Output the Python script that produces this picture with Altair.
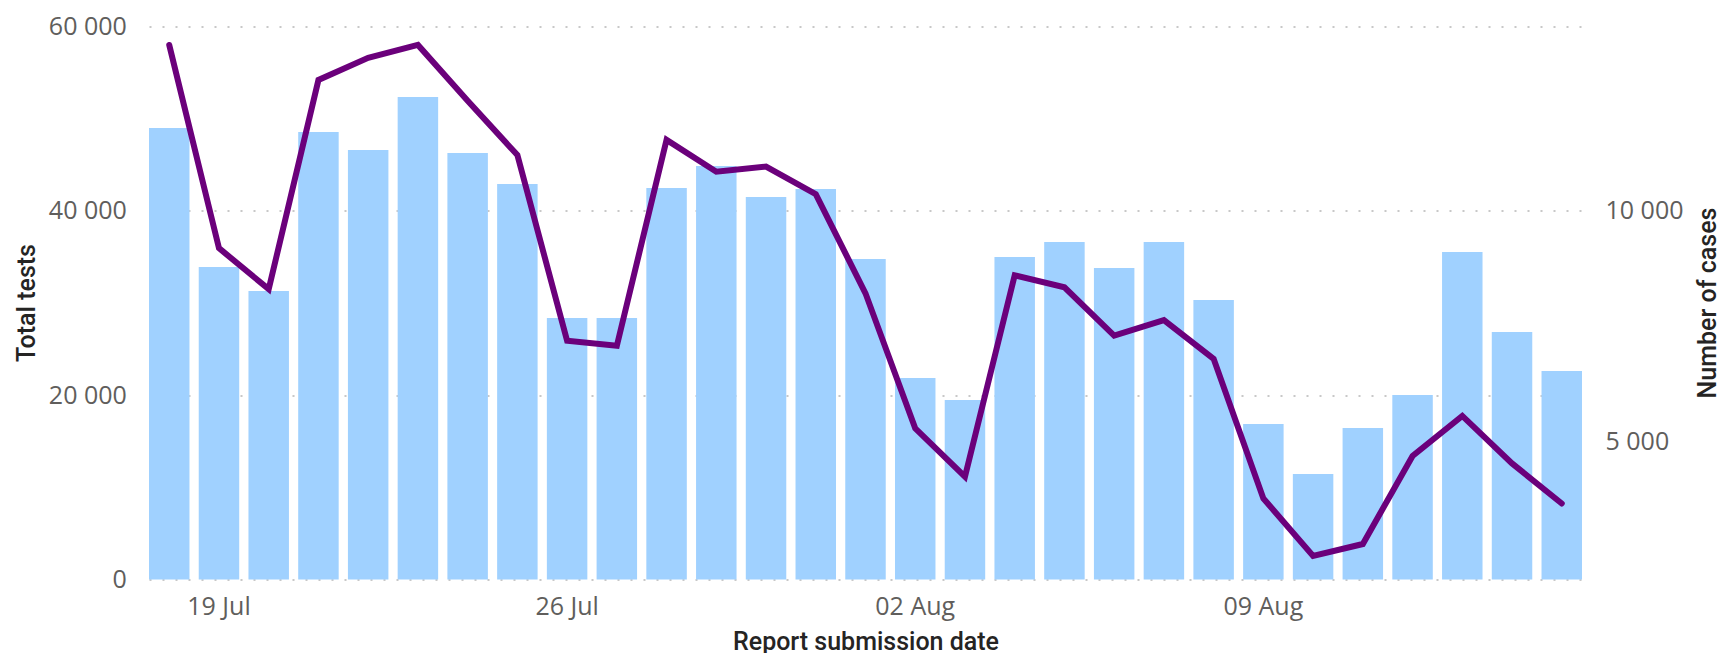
import altair as alt
import pandas as pd

dates = ["18 Jul", "19 Jul", "20 Jul", "21 Jul", "22 Jul", "23 Jul", "24 Jul", "25 Jul",
         "26 Jul", "27 Jul", "28 Jul", "29 Jul", "30 Jul", "31 Jul", "01 Aug", "02 Aug",
         "03 Aug", "04 Aug", "05 Aug", "06 Aug", "07 Aug", "08 Aug", "09 Aug", "10 Aug",
         "11 Aug", "12 Aug", "13 Aug", "14 Aug", "15 Aug"]
tests = [48990, 33900, 31300, 48550, 46600, 52350, 46280, 42910, 28370, 28370,
         42480, 44870, 41500, 42370, 34770, 21860, 19480, 34990, 36620, 33800,
         36620, 30330, 16870, 11450, 16440, 20020, 35530, 26850, 22620]
cases = [13600, 9190, 8300, 12840, 13320, 13600, 12390, 11210, 7180, 7070,
         11540, 10850, 10960, 10360, 8210, 5280, 4230, 8600, 8340, 7290,
         7630, 6790, 3760, 2510, 2770, 4680, 5550, 4520, 3650]
x_ticks = ["19 Jul", "26 Jul", "02 Aug", "09 Aug"]
left_ticks = [0, 20000, 40000, 60000]
right_ticks = [5000, 10000]

df = pd.DataFrame({"date": dates, "tests": tests, "cases": cases})

LABEL_FONT = "Open Sans"
TITLE_FONT = "Roboto"
LABEL_COLOR = "#605E5C"
TITLE_COLOR = "#252423"
fmt = "replace(format(datum.value, ','), ',', ' ')"

x = alt.X(
    "date:N", sort=dates,
    scale=alt.Scale(paddingInner=0.186, paddingOuter=0),
    axis=alt.Axis(values=x_ticks, labelAngle=0, title="Report submission date",
                  ticks=False, domain=False, grid=False,
                  labelFont=LABEL_FONT, labelFontSize=25, labelColor=LABEL_COLOR,
                  labelBaseline="alphabetic", labelPadding=34.8,
                  titleFont=TITLE_FONT, titleFontSize=25, titleColor=TITLE_COLOR,
                  titleFontWeight=500, titleBaseline="alphabetic", titleY=69.8),
)

bars = alt.Chart(df).mark_bar(color="#A0D1FF").encode(
    x=x,
    y=alt.Y("tests:Q", scale=alt.Scale(domain=[0, 60000], nice=False),
            axis=alt.Axis(orient="left", values=left_ticks, title="Total tests",
                          labelExpr=fmt, ticks=False, domain=False,
                          grid=True, gridDash=[2, 11], gridColor="#C8C8C8", gridWidth=2,
                          labelFont=LABEL_FONT, labelFontSize=25, labelColor=LABEL_COLOR,
                          labelPadding=22.7,
                          titleFont=TITLE_FONT, titleFontSize=25, titleColor=TITLE_COLOR,
                          titleFontWeight=500, titleAngle=270,
                          titleBaseline="alphabetic", titleX=-114.6, titleY=276)),
)

line = alt.Chart(df).mark_line(color="#6B007B", strokeWidth=6, strokeCap="round").encode(
    x=x,
    y=alt.Y("cases:Q", scale=alt.Scale(domain=[2000, 14000], nice=False, zero=False),
            axis=alt.Axis(orient="right", values=right_ticks, title="Number of cases",
                          labelExpr=fmt, ticks=False, domain=False, grid=False,
                          labelFont=LABEL_FONT, labelFontSize=25, labelColor=LABEL_COLOR,
                          labelPadding=23,
                          titleFont=TITLE_FONT, titleFontSize=25, titleColor=TITLE_COLOR,
                          titleFontWeight=500, titleAngle=270,
                          titleBaseline="alphabetic", titleX=133, titleY=276)),
)

chart = alt.layer(bars, line).resolve_scale(y="independent").properties(
    width=1433, height=553,
    padding={"left": 141, "top": 18.5, "right": 138, "bottom": 78},
    autosize=alt.AutoSizeParams(type="none"),
).configure_view(stroke=None)

chart.save("out.html", embed_options={"renderer": "svg", "actions": False})
